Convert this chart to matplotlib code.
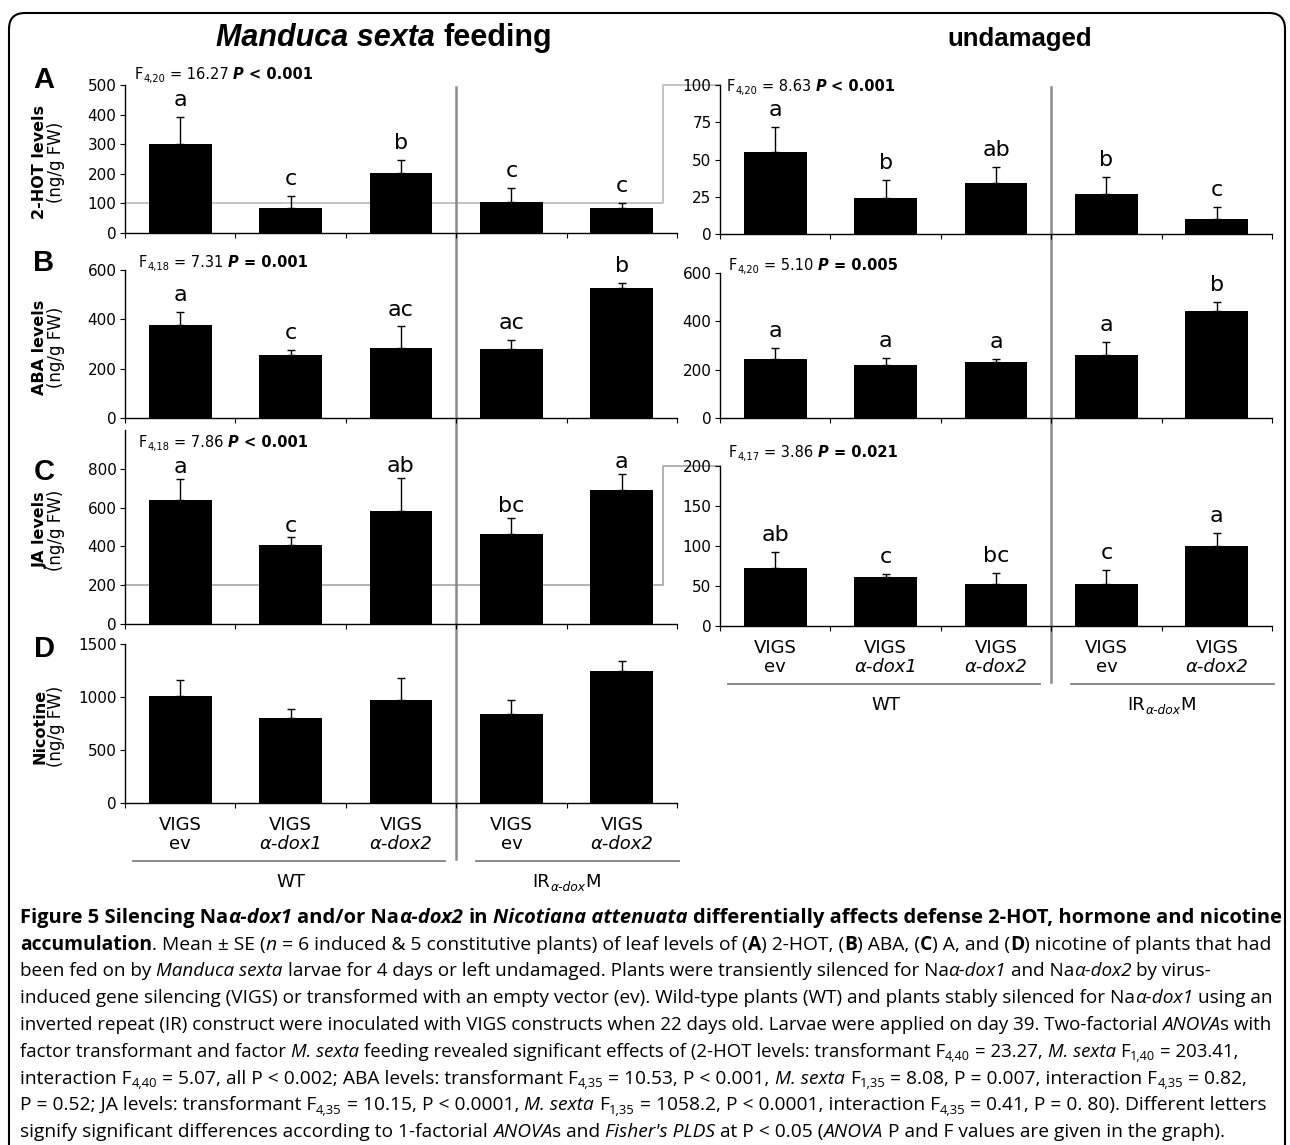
import matplotlib
matplotlib.use("Agg")
import matplotlib.pyplot as plt
import numpy as np
from matplotlib.font_manager import FontProperties
from matplotlib.lines import Line2D
from matplotlib.patches import FancyBboxPatch
from matplotlib.transforms import IdentityTransform

W, H = 1290, 1145

# ---- data ----
vigs = ["VIGS"] * 5
constructs = ["ev", "α-dox1", "α-dox2", "ev", "α-dox2"]
group_names = ["WT", "IR"]

hot_fed = [300, 84, 202, 106, 85]
hot_fed_se = [93, 40, 45, 46, 18]
hot_fed_let = ["a", "c", "b", "c", "c"]
hot_und = [55, 24, 34, 27, 10]
hot_und_se = [17, 12, 11, 11, 8]
hot_und_let = ["a", "b", "ab", "b", "c"]

aba_fed = [379, 255, 282, 278, 528]
aba_fed_se = [51, 20, 89, 40, 18]
aba_fed_let = ["a", "c", "ac", "ac", "b"]
aba_und = [244, 220, 230, 259, 443]
aba_und_se = [44, 28, 14, 54, 36]
aba_und_let = ["a", "a", "a", "a", "b"]

ja_fed = [641, 407, 583, 464, 693]
ja_fed_se = [109, 40, 172, 83, 81]
ja_fed_let = ["a", "c", "ab", "bc", "a"]
ja_und = [72, 61, 53, 53, 100]
ja_und_se = [20, 4, 13, 17, 16]
ja_und_let = ["ab", "c", "bc", "c", "a"]

nic_fed = [1013, 806, 970, 841, 1249]
nic_fed_se = [148, 79, 213, 132, 91]

# F df, F value, P relation, P value
stats = {
    "A_fed": ("4,20", "16.27", "<", "0.001"),
    "A_und": ("4,20", "8.63", "<", "0.001"),
    "B_fed": ("4,18", "7.31", "=", "0.001"),
    "B_und": ("4,20", "5.10", "=", "0.005"),
    "C_fed": ("4,18", "7.86", "<", "0.001"),
    "C_und": ("4,17", "3.86", "=", "0.021"),
}

CHART = "DejaVu Sans"
ARIAL = "Liberation Sans"
CAP = "Open Sans"

fig = plt.figure(figsize=(W / 100, H / 100), dpi=100)
R = fig.canvas.get_renderer()
ID = IdentityTransform()

STY = {"r": ("normal", "normal"), "b": ("bold", "normal"),
       "i": ("normal", "italic"), "bi": ("bold", "italic")}


def measure(s, prop):
    w1 = R.get_text_width_height_descent("|" + s + "|", prop, ismath=False)[0]
    w0 = R.get_text_width_height_descent("||", prop, ismath=False)[0]
    return w1 - w0


def run_props(runs, size, family):
    out = []
    for txt, st in runs:
        sub = st.startswith("_")
        w, s = STY[st.lstrip("_")]
        prop = FontProperties(family=family, weight=w, style=s,
                              size=size * 0.68 if sub else size)
        out.append((txt, prop, sub))
    return out


def runs_width(runs, size, family):
    return sum(measure(t, p) for t, p, _ in run_props(runs, size, family))


def rich(x, y, runs, size, family, ha="left", color="black"):
    """x, y in pixels from the top-left corner, y is the baseline."""
    items = run_props(runs, size, family)
    total = sum(measure(t, p) for t, p, _ in items)
    cx = x - total / 2 if ha == "center" else x
    yb = H - y
    for txt, prop, sub in items:
        lead = len(txt) - len(txt.lstrip(" "))
        cx += measure(" " * lead, prop) if lead else 0
        body = txt.lstrip(" ")
        shift = size * 100 / 72 * 0.2 if sub else 0
        if body.strip():
            fig.text(cx, yb - shift, body.rstrip(" "), fontproperties=prop,
                     transform=ID, ha="left", va="baseline", color=color)
        cx += measure(body, prop)


def add_ax(x0, y0, x1, y1):
    return fig.add_axes([x0 / W, 1 - y1 / H, (x1 - x0) / W, (y1 - y0) / H])


def panel(ax, vals, se, letters, top, step, tick_top=None, let_off=5):
    x = np.arange(len(vals))
    ax.bar(x, vals, width=0.57, color="black", zorder=3)
    ax.errorbar(x, vals, yerr=[np.zeros(len(se)), se], fmt="none",
                ecolor="black", elinewidth=1.0, capsize=3, capthick=1.0, zorder=2)
    ax.set_xlim(-0.5, 4.5)
    ax.set_ylim(0, top)
    ax.set_yticks(np.arange(0, (tick_top or top) + 1, step))
    ax.set_xticks(np.arange(-0.5, 4.6, 1))
    ax.set_xticklabels([])
    for s in ("top", "right"):
        ax.spines[s].set_visible(False)
    for s in ("left", "bottom"):
        ax.spines[s].set_linewidth(1.0)
    ax.tick_params(direction="out", length=3.6, width=0.8, labelsize=11, pad=2.5)
    for lab in ax.get_yticklabels():
        lab.set_family(CHART)
    ax.patch.set_visible(False)
    if letters:
        for xi, v, e, l in zip(x, vals, se, letters):
            ax.annotate(l, (xi, v + e), xytext=(0, let_off), textcoords="offset points",
                        ha="center", va="bottom", fontsize=16, family=CHART)


def stat_text(x, y, key):
    df, f, rel, p = stats[key]
    rich(x, y, [("F", "r"), (df, "_r"), (" = " + f + " ", "r"), ("P", "bi"),
                (" " + rel + " " + p, "b")], 10.5, CHART)


def connector(axl, axr, val, xv, color, lw):
    p0 = axl.transData.transform((-0.5, val))
    p1 = axl.transData.transform((xv, val))
    p2 = axr.transData.transform((-0.5, val))
    fig.add_artist(Line2D([p0[0], p1[0], p1[0], p2[0]], [p0[1], p1[1], p2[1], p2[1]],
                          transform=ID, color=color, lw=lw, zorder=-1))


def xlabels(ax):
    for i, (a, b) in enumerate(zip(vigs, constructs)):
        ax.annotate(a, (i, 0), xycoords=("data", "axes fraction"), xytext=(0, -16),
                    textcoords="offset points", ha="center", va="center",
                    fontsize=13, family=CHART)
        ax.annotate(b, (i, 0), xycoords=("data", "axes fraction"), xytext=(0, -29.5),
                    textcoords="offset points", ha="center", va="center", fontsize=13,
                    family=CHART, fontstyle="italic" if "dox" in b else "normal")
    ybot = ax.transAxes.transform((0, 0))[1]
    spans = [(-0.43, 2.4), (2.68, 4.52)]
    centers = [1.0, 3.5]
    for (g0, g1), c, name in zip(spans, centers, group_names):
        xa = ax.transData.transform((g0, 0))[0]
        xb = ax.transData.transform((g1, 0))[0]
        fig.add_artist(Line2D([xa, xb], [ybot - 58, ybot - 58], transform=ID,
                              color="#808080", lw=1.3))
        xc = ax.transData.transform((c, 0))[0]
        if name == "IR":
            runs = [("IR", "r"), ("α-dox", "_i"), ("M", "r")]
        else:
            runs = [(name, "r")]
        rich(xc, H - ybot + 84, runs, 13, CHART, ha="center")
    return ybot - 58


# ---- axes ----
aL = add_ax(125, 85, 677, 233)
aR = add_ax(720, 85, 1272, 234)
bL = add_ax(125, 270, 677, 418)
bR = add_ax(720, 273, 1272, 418)
cL = add_ax(125, 430, 677, 624)
cR = add_ax(720, 466, 1272, 626)
dL = add_ax(125, 644, 677, 803)

panel(aL, hot_fed, hot_fed_se, hot_fed_let, 500, 100)
panel(aR, hot_und, hot_und_se, hot_und_let, 100, 25)
panel(bL, aba_fed, aba_fed_se, aba_fed_let, 600, 200)
panel(bR, aba_und, aba_und_se, aba_und_let, 600, 200)
panel(cL, ja_fed, ja_fed_se, ja_fed_let, 1000, 200, tick_top=800, let_off=1)
panel(cR, ja_und, ja_und_se, ja_und_let, 200, 50)
panel(dL, nic_fed, nic_fed_se, None, 1500, 500)

connector(aL, aR, 100, 4.37, "#c4c4c4", 1.4)
connector(cL, cR, 200, 4.37, "#9c9c9c", 1.1)

yl_left = xlabels(dL)
yl_right = xlabels(cR)

# separators between WT and IR groups
for top_ax, yl in ((aL, yl_left), (aR, yl_right)):
    xs = top_ax.transData.transform((2.5, 0))[0]
    ytop = top_ax.transAxes.transform((0, 1))[1] - 2
    fig.add_artist(Line2D([xs, xs], [ytop, yl + 2], transform=ID,
                          color="#8a8a8a", lw=1.8, zorder=-1))

# stats
stat_text(135, 79, "A_fed")
stat_text(727, 91, "A_und")
stat_text(139, 267, "B_fed")
stat_text(729, 270, "B_und")
stat_text(139, 447, "C_fed")
stat_text(729, 457, "C_und")

# y labels
ylabels = [(aL, "2-HOT levels"), (bL, "ABA levels"), (cL, "JA levels"), (dL, "Nicotine")]
for ax, lab in ylabels:
    yc = ax.transAxes.transform((0, 0.5))[1] - 3
    fig.text(40, yc, lab, transform=ID, rotation=90, ha="center", va="center",
             fontsize=11.5, fontweight="bold", family=CHART)
    fig.text(56, yc, "(ng/g FW)", transform=ID, rotation=90, ha="center",
             va="center", fontsize=12, family=CHART)

# panel letters
for lab, yb in zip("ABCD", (88, 271, 480, 657)):
    fig.text(44, H - yb, lab, transform=ID, ha="center", va="baseline",
             fontsize=21, fontweight="bold", family=ARIAL)

# titles
rich(384, 46, [("Manduca sexta", "bi"), (" feeding", "b")], 22, ARIAL, ha="center")
rich(1020, 46, [("undamaged", "b")], 18.5, ARIAL, ha="center")

# border
fig.add_artist(FancyBboxPatch((9, -40), 1285 - 9, (H - 13) + 40,
                              boxstyle="round,pad=0,rounding_size=16", transform=ID,
                              fill=False, ec="black", lw=1.5))

# caption
caption = [
    [("Figure 5 Silencing Na", "b"), ("α-dox1", "bi"), (" and/or Na", "b"), ("α-dox2", "bi"),
     (" in ", "b"), ("Nicotiana attenuata", "bi"),
     (" differentially affects defense 2-HOT, hormone and nicotine", "b")],
    [("accumulation", "b"), (". Mean ± SE (", "r"), ("n", "i"),
     (" = 6 induced & 5 constitutive plants) of leaf levels of (", "r"), ("A", "b"),
     (") 2-HOT, (", "r"), ("B", "b"), (") ABA, (", "r"), ("C", "b"), (") A, and (", "r"),
     ("D", "b"), (") nicotine of plants that had", "r")],
    [("been fed on by ", "r"), ("Manduca sexta", "i"),
     (" larvae for 4 days or left undamaged. Plants were transiently silenced for Na", "r"),
     ("α-dox1", "i"), (" and Na", "r"), ("α-dox2", "i"), (" by virus-", "r")],
    [("induced gene silencing (VIGS) or transformed with an empty vector (ev). Wild-type plants (WT) and plants stably silenced for Na", "r"),
     ("α-dox1", "i"), (" using an", "r")],
    [("inverted repeat (IR) construct were inoculated with VIGS constructs when 22 days old. Larvae were applied on day 39. Two-factorial ", "r"),
     ("ANOVA", "i"), ("s with", "r")],
    [("factor transformant and factor ", "r"), ("M. sexta", "i"),
     (" feeding revealed significant effects of (2-HOT levels: transformant F", "r"), ("4,40", "_r"),
     (" = 23.27, ", "r"), ("M. sexta", "i"), (" F", "r"), ("1,40", "_r"), (" = 203.41,", "r")],
    [("interaction F", "r"), ("4,40", "_r"), (" = 5.07, all P < 0.002; ABA levels: transformant F", "r"),
     ("4,35", "_r"), (" = 10.53, P < 0.001, ", "r"), ("M. sexta", "i"), (" F", "r"), ("1,35", "_r"),
     (" = 8.08, P = 0.007, interaction F", "r"), ("4,35", "_r"), (" = 0.82,", "r")],
    [("P = 0.52; JA levels: transformant F", "r"), ("4,35", "_r"), (" = 10.15, P < 0.0001, ", "r"),
     ("M. sexta", "i"), (" F", "r"), ("1,35", "_r"), (" = 1058.2, P < 0.0001, interaction F", "r"),
     ("4,35", "_r"), (" = 0.41, P = 0. 80). Different letters", "r")],
    [("signify significant differences according to 1-factorial ", "r"), ("ANOVA", "i"),
     ("s and ", "r"), ("Fisher's PLDS", "i"), (" at P < 0.05 (", "r"), ("ANOVA", "i"),
     (" P and F values are given in the graph).", "r")],
]
line_ends = [1276, 1265, 1207, 1269, 1269, 1236, 1247, 1261, 1222]
for k, (runs, end) in enumerate(zip(caption, line_ends)):
    base = 12
    size = base * (end - 20) / runs_width(runs, base, CAP)
    rich(20, 923 + 26.75 * k, runs, size, CAP)

fig.savefig("out.png", dpi=100)
